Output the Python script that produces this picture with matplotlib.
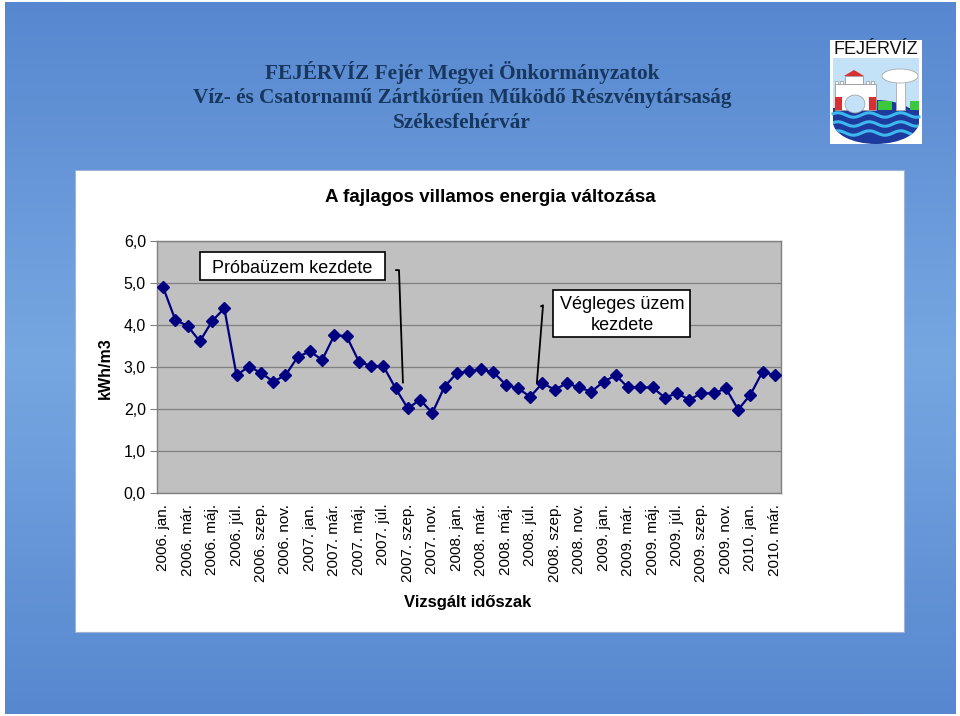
import numpy as np
import matplotlib
matplotlib.use("Agg")
import matplotlib.pyplot as plt
from matplotlib.patches import Rectangle, Ellipse, Polygon
from matplotlib.colors import LinearSegmentedColormap

# havi fajlagos villamos energia, kWh/m3 (2006. jan. - 2010. márc.)
values = [4.90, 4.12, 3.98, 3.61, 4.09, 4.40, 2.80, 3.01, 2.86, 2.65, 2.80, 3.24,
          3.37, 3.17, 3.76, 3.73, 3.13, 3.02, 3.02, 2.49, 2.01, 2.22, 1.90, 2.53,
          2.85, 2.90, 2.94, 2.87, 2.58, 2.49, 2.29, 2.61, 2.46, 2.61, 2.51, 2.41,
          2.65, 2.80, 2.51, 2.51, 2.51, 2.27, 2.37, 2.22, 2.37, 2.37, 2.49, 1.98,
          2.34, 2.89, 2.80]
tick_labels = ["2006. jan.", "2006. már.", "2006. máj.", "2006. júl.", "2006. szep.", "2006. nov.",
               "2007. jan.", "2007. már.", "2007. máj.", "2007. júl.", "2007. szep.", "2007. nov.",
               "2008. jan.", "2008. már.", "2008. máj.", "2008. júl.", "2008. szep.", "2008. nov.",
               "2009. jan.", "2009. már.", "2009. máj.", "2009. júl.", "2009. szep.", "2009. nov.",
               "2010. jan.", "2010. már."]
y_ticks = [0, 1, 2, 3, 4, 5, 6]

header = ["FEJÉRVÍZ Fejér Megyei Önkormányzatok",
          "Víz- és Csatornamű Zártkörűen Működő Részvénytársaság",
          "Székesfehérvár"]

W, H = 960, 716
plt.rcParams['font.family'] = ['Liberation Sans', 'DejaVu Sans']

fig = plt.figure(figsize=(W / 100, H / 100), dpi=100)
fig.patch.set_facecolor("white")

def fx(px):
    return px / W

def fy(py):
    return 1 - py / H

# kék háttér színátmenettel
bg = fig.add_axes([fx(5), fy(714), fx(951), 712 / H], zorder=0)
cmap = LinearSegmentedColormap.from_list("bg", [(0, "#5787cf"), (0.5, "#77a7e1"), (1, "#5787cf")])
grad = np.linspace(0, 1, 256).reshape(-1, 1)
bg.imshow(grad, aspect="auto", cmap=cmap, extent=[0, 1, 0, 1])
bg.axis("off")

# fehér panel
fig.patches.append(Rectangle((fx(75), fy(632)), fx(829), 462 / H, transform=fig.transFigure,
                             facecolor="white", edgecolor="#9fb4d4", lw=0.8, zorder=1))

# fejléc
hdr_y = [72, 98, 123]
for t, yy in zip(header, hdr_y):
    fig.text(fx(462), fy(yy), t, ha="center", va="center", fontsize=15.3, fontweight="bold",
             family=["Liberation Serif", "DejaVu Serif"], color="#17375e", zorder=3)

# diagram
ax = fig.add_axes([fx(157), fy(492.7), fx(624), 251.5 / H], zorder=2)
ax.set_facecolor("#c0c0c0")
x = np.arange(len(values))
ax.plot(x, values, color="#000080", lw=1.6, marker="D", markersize=6.5, zorder=3)
ax.set_xlim(-0.5, len(values) - 0.5)
ax.set_ylim(0, 6)
ax.set_yticks(y_ticks)
ax.set_yticklabels([f"{v:.1f}".replace(".", ",") for v in y_ticks], fontsize=11.5)
ax.set_xticks(x[::2])
ax.set_xticklabels(tick_labels, rotation=90, fontsize=11, va="top", ha="center")
ax.tick_params(axis="x", length=0, pad=8)
ax.tick_params(axis="y", length=5, pad=3, color="#808080")
ax.grid(axis="y", color="#808080", lw=0.9)
ax.set_axisbelow(True)
for s in ax.spines.values():
    s.set_color("#808080")
    s.set_linewidth(1)

# megjegyzések
ax.add_patch(Rectangle((0.069, 0.846), 0.296, 0.111, transform=ax.transAxes,
                       facecolor="white", edgecolor="black", lw=1.2, zorder=5))
ax.text(0.2163, 0.8895, "Próbaüzem kezdete", transform=ax.transAxes, ha="center", va="center",
        fontsize=13, zorder=6)
ax.plot([19.04, 19.28, 19.6], [5.31, 5.31, 2.63], color="black", lw=1.3, zorder=4)

ax.add_patch(Rectangle((0.6346, 0.619), 0.2196, 0.187, transform=ax.transAxes,
                       facecolor="white", edgecolor="black", lw=1.2, zorder=5))
ax.text(0.745, 0.7066, "Végleges üzem\nkezdete", transform=ax.transAxes, ha="center", va="center",
        fontsize=13, linespacing=1.25, zorder=6)
ax.plot([30.9, 31.05, 30.55], [4.45, 4.47, 2.63], color="black", lw=1.3, zorder=4)

fig.text(fx(490), fy(197), "A fajlagos villamos energia változása", ha="center", va="center",
         fontsize=13.5, fontweight="bold", zorder=3)
fig.text(fx(105), fy(368), "kWh/m3", ha="center", va="center", rotation=90,
         fontsize=11.5, fontweight="bold", zorder=3)
fig.text(fx(468), fy(603), "Vizsgált időszak", ha="center", va="center",
         fontsize=12, fontweight="bold", zorder=3)

# logó
lg = fig.add_axes([fx(830), fy(144), fx(92), 104 / H], zorder=3)
lg.set_xlim(0, 92)
lg.set_ylim(0, 104)
lg.axis("off")
lg.add_patch(Rectangle((0, 0), 92, 104, facecolor="white", edgecolor="none"))
lg.text(46, 95, "FEJÉRVÍZ", ha="center", va="center", fontsize=13, color="#111111")
lg.add_patch(Rectangle((3, 34), 86, 52, facecolor="#c4e2f7", edgecolor="none"))
# víz
lg.add_patch(Ellipse((46, 22), 86, 44, facecolor="#1d3b9c", edgecolor="none"))
lg.add_patch(Rectangle((3, 22), 86, 14, facecolor="#1d3b9c", edgecolor="none"))
clip = Ellipse((46, 22), 86, 44, transform=lg.transData)
wx = np.linspace(3, 89, 120)
for wy in [29, 20, 11]:
    ln, = lg.plot(wx, wy + 2.2 * np.sin(wx / 5.0), color="#3db8ee", lw=2.2)
    if wy < 22:
        ln.set_clip_path(clip)
# fű
lg.add_patch(Rectangle((48, 34), 14, 9, facecolor="#3cc83c", edgecolor="none"))
lg.add_patch(Rectangle((80, 34), 9, 9, facecolor="#3cc83c", edgecolor="none"))
# vár
lg.add_patch(Rectangle((5, 34), 41, 26, facecolor="white", edgecolor="#999999", lw=0.6))
lg.add_patch(Rectangle((15, 60), 18, 8, facecolor="white", edgecolor="#999999", lw=0.6))
for cx in [5, 10, 36, 41]:
    lg.add_patch(Rectangle((cx, 60), 3, 3, facecolor="white", edgecolor="#999999", lw=0.5))
lg.add_patch(Polygon([(14, 68), (24, 74), (34, 68)], closed=True, facecolor="#d83030", edgecolor="none"))
lg.add_patch(Rectangle((5, 34), 7, 13, facecolor="#d83030", edgecolor="none"))
lg.add_patch(Rectangle((39, 34), 7, 13, facecolor="#d83030", edgecolor="none"))
lg.add_patch(Ellipse((25, 40), 20, 18, facecolor="#c4e2f7", edgecolor="#999999", lw=0.5))
# víztorony
lg.add_patch(Rectangle((66, 34), 9, 30, facecolor="white", edgecolor="#aaaaaa", lw=0.6))
lg.add_patch(Ellipse((70, 68), 36, 14, facecolor="white", edgecolor="#aaaaaa", lw=0.6))

fig.savefig("out.png", dpi=100, facecolor=fig.get_facecolor())
